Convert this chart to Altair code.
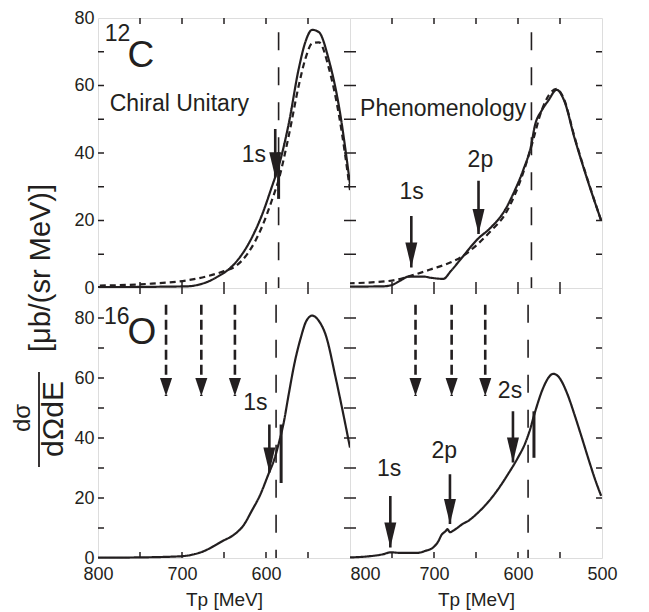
import altair as alt
import pandas as pd

# ---------------- data (Tp in MeV, cross section in µb/(sr MeV)) ----------------
TP_RANGE = [500, 800]

# 12C, chiral unitary (top-left)
tl_tp = [800, 760, 720, 693, 680, 668, 656, 645, 636, 621, 605, 593, 585, 573, 561, 553, 545, 537, 525, 513, 500]
tl_solid = [0.3, 0.3, 0.4, 0.5, 1.0, 2.0, 3.6, 5.4, 7.6, 13.0, 21.5, 30.0, 36.0, 48.6, 65.0, 73.0, 76.5, 75.8, 67.4, 53.6, 30.8]
tl_d_tp = [800, 736, 693, 668, 650, 636, 621, 605, 593, 585, 573, 561, 553, 545, 537, 525, 513, 500]
tl_dash = [0.7, 1.3, 2.3, 3.6, 5.0, 6.5, 10.5, 18.0, 26.0, 32.0, 45.0, 60.0, 68.0, 72.5, 72.8, 65.0, 51.0, 29.0]

# 12C, phenomenology (top-right)
tr_tp = [800, 760, 750, 740, 730, 713, 703, 689, 680, 668, 648, 632, 616, 604, 594, 584, 580, 572, 564, 554, 545, 533, 517, 501]
tr_solid = [0.4, 0.5, 0.9, 2.2, 3.4, 3.4, 3.0, 2.7, 5.0, 8.6, 14.5, 18.0, 22.9, 28.8, 34.8, 42.7, 48.0, 52.5, 55.5, 58.7, 55.5, 44.7, 31.8, 20.0]
tr_d_tp = [800, 750, 728, 703, 680, 668, 648, 632, 616, 604, 594, 584, 572, 554, 545, 533, 517, 501]
tr_dash = [1.4, 2.2, 3.6, 5.6, 7.6, 9.1, 13.0, 17.0, 21.6, 27.5, 34.0, 42.0, 52.5, 59.0, 55.8, 45.0, 32.0, 20.0]

# 16O, chiral unitary (bottom-left)
bl_tp = [800, 750, 700, 685, 673, 662, 652, 637, 627, 617, 607, 597, 590, 585, 579, 573, 566, 559, 552, 545, 537, 529, 517, 508, 500]
bl_solid = [0.1, 0.2, 0.6, 1.3, 2.4, 4.0, 5.6, 8.0, 10.8, 15.7, 21.0, 28.0, 33.0, 38.0, 45.0, 54.5, 65.0, 73.0, 79.0, 80.8, 79.0, 74.4, 60.0, 48.0, 36.8]

# 16O, phenomenology (bottom-right)
br_tp = [800, 780, 760, 752, 740, 720, 710, 701, 695, 691, 686, 684, 681, 675, 665, 659, 650, 636, 624, 612, 600, 592, 586, 580, 570, 564, 558, 552, 541, 533, 525, 515, 508, 501]
br_solid = [0.2, 0.5, 1.3, 1.9, 1.7, 1.7, 2.4, 3.5, 5.5, 7.7, 9.0, 9.6, 8.6, 9.5, 11.5, 12.4, 14.5, 18.5, 22.8, 27.9, 33.5, 37.9, 42.5, 48.4, 56.7, 60.0, 61.4, 60.5, 54.5, 48.0, 41.0, 32.0, 26.0, 20.7]

# vertical dashed threshold lines: (Tp, top value)
tl_vline = (585, 75.8)
tr_vline = (584, 75.8)
bl_vline = (588, 84.4)
br_vline = (588, 84.4)

# short solid bars: (Tp, from, to)
tl_bar = [(585, 40.2, 26.4)]
bl_bar = [(582, 44.5, 25.0)]
br_bar = [(581, 48.9, 33.4)]

# solid arrows: (Tp, start value, tip value)
tl_arrows = [(589, 47.1, 32.8)]
tr_arrows = [(727, 21.3, 6.1), (647, 31.8, 16.0)]
bl_arrows = [(596, 44.5, 28.5)]
br_arrows = [(752, 20.7, 3.5), (681, 27.9, 11.3), (606, 48.9, 31.8)]

# dashed arrows
bl_darrows = [(719, 84.4, 54.0), (677, 84.4, 54.0), (637, 84.4, 54.0)]
br_darrows = [(722, 84.4, 54.0), (679, 84.4, 54.0), (639, 84.4, 54.0)]

# text labels: (Tp of left edge, baseline value, text, font size)
tl_labels = [(792, 73.2, "12", 23), (765, 65.5, "C", 37), (786, 52.4, "Chiral Unitary", 23), (629, 37.3, "1s", 23)]
tr_labels = [(788, 51.0, "Phenomenology", 23), (741, 26.4, "1s", 23), (660, 35.8, "2p", 23)]
bl_labels = [(793, 78.1, "16", 23), (765, 71.4, "O", 37), (627, 49.5, "1s", 23)]
br_labels = [(768, 27.3, "1s", 23), (703, 33.2, "2p", 23), (624, 53.2, "2s", 23)]

X_TICKS = [750, 700, 650, 600, 550]

# ---------------- styling ----------------
W, H = 252, 270
INK = "#231f20"
FONT = "Liberation Sans, Arial, Helvetica, sans-serif"
SOLID_HEAD = "M-0.48,-2L0.48,-2L0,0Z"
DASH_HEAD = "M-0.67,-2L0.67,-2L0,0Z"


def make_panel(ymax, curves, vline, bars, arrows, darrows, labels,
               x_labels=None, show_y=False, extra=None):
    xs = alt.Scale(domain=TP_RANGE, reverse=True, nice=False, zero=False)
    ys = alt.Scale(domain=[0, ymax], nice=False, zero=False)
    if x_labels is not None:
        flush_800 = "true" if 500 in x_labels else "false"
        xaxis = alt.Axis(values=x_labels, title="Tp [MeV]", ticks=False, tickSize=0,
                         domain=False, grid=False, labelFont=FONT, labelFontSize=18,
                         labelColor=INK, labelPadding=7, labelFlush=False,
                         labelAlign={"condition": {"test": "datum.value == 800 && " + flush_800,
                                                   "value": "left"}, "value": "center"},
                         titleFont=FONT, titleFontSize=19, titleFontWeight="normal",
                         titleColor=INK, titlePadding=7)
    else:
        xaxis = None
    if show_y:
        yaxis = alt.Axis(values=[0, 20, 40, 60, 80], title=None, ticks=False, tickSize=0,
                         domain=False, grid=False, labelFont=FONT, labelFontSize=18,
                         labelColor=INK, labelPadding=4)
    else:
        yaxis = None

    def X(f="tp"):
        return alt.X(f"{f}:Q", scale=xs, axis=xaxis)

    def Y(f="v"):
        return alt.Y(f"{f}:Q", scale=ys, axis=yaxis)

    layers = []
    # curves
    for tp, vals, dashed in curves:
        df = pd.DataFrame({"tp": tp, "v": vals})
        mk = alt.Chart(df).mark_line(color=INK, strokeWidth=2.2, interpolate="monotone",
                                     strokeDash=[6, 4] if dashed else [1, 0])
        layers.append(mk.encode(x=X(), y=Y(), order="tp:Q"))
    # dashed threshold line
    vdf = pd.DataFrame({"tp": [vline[0]], "v": [vline[1]], "v0": [0]})
    layers.append(alt.Chart(vdf).mark_rule(color=INK, strokeWidth=1.6, strokeDash=[18, 17])
                  .encode(x=X(), y=Y(), y2="v0:Q"))
    # short bars
    if bars:
        bdf = pd.DataFrame(bars, columns=["tp", "v", "v2"])
        layers.append(alt.Chart(bdf).mark_rule(color=INK, strokeWidth=3)
                      .encode(x=X(), y=Y(), y2="v2:Q"))
    # arrows
    for arr, head, size, dash in ((arrows, SOLID_HEAD, 625, [1, 0]), (darrows, DASH_HEAD, 324, [10, 5])):
        if not arr:
            continue
        adf = pd.DataFrame(arr, columns=["tp", "v", "tip"])
        layers.append(alt.Chart(adf).mark_rule(color=INK, strokeWidth=2.6, strokeDash=dash)
                      .encode(x=X(), y=Y(), y2="tip:Q"))
        layers.append(alt.Chart(adf).mark_point(shape=head, size=size, filled=True, opacity=1,
                                                color=INK, strokeWidth=0)
                      .encode(x=X(), y=Y("tip")))
    # inward ticks
    tdf = pd.DataFrame({"tp": X_TICKS})
    layers.append(alt.Chart(tdf).mark_rule(color=INK, strokeWidth=1.5)
                  .encode(x=X(), y=alt.value(H), y2=alt.value(H - 6)))
    layers.append(alt.Chart(tdf).mark_rule(color=INK, strokeWidth=1.5)
                  .encode(x=X(), y=alt.value(0), y2=alt.value(6)))
    ydf = pd.DataFrame({"v": list(range(10, int(ymax), 10))})
    layers.append(alt.Chart(ydf).mark_rule(color=INK, strokeWidth=1.5)
                  .encode(y=Y(), x=alt.value(0), x2=alt.value(6)))
    layers.append(alt.Chart(ydf).mark_rule(color=INK, strokeWidth=1.5)
                  .encode(y=Y(), x=alt.value(W), x2=alt.value(W - 6)))
    # labels
    ldf = pd.DataFrame(labels, columns=["tp", "v", "label", "fs"])
    layers.append(alt.Chart(ldf).mark_text(align="left", baseline="alphabetic", font=FONT, color=INK)
                  .encode(x=X(), y=Y(), text="label:N", size=alt.Size("fs:Q", scale=None, legend=None)))
    if extra is not None:
        layers.extend(extra)
    return alt.layer(*layers).properties(width=W, height=H)


# y-axis title drawn as text (fraction) in bottom-left panel
frac_df = pd.DataFrame({"t": ["dσ", "dΩdE", "[μb/(sr MeV)]"],
                        "px": [-75.5, -44.5, -57], "py": [130, 131, -20], "fs": [24, 30, 29]})
ytitle = [
    alt.Chart(frac_df).mark_text(angle=270, align="center", baseline="middle", font=FONT, color=INK)
    .encode(text="t:N", x=alt.X("px:Q", scale=None), y=alt.Y("py:Q", scale=None),
            size=alt.Size("fs:Q", scale=None, legend=None)),
    alt.Chart(pd.DataFrame({"a": [1]})).mark_rule(color=INK, strokeWidth=1.8)
    .encode(x=alt.value(-59), y=alt.value(84), y2=alt.value(179)),
]

tl = make_panel(80, [(tl_tp, tl_solid, False), (tl_d_tp, tl_dash, True)], tl_vline, tl_bar,
                tl_arrows, [], tl_labels, show_y=True)
tr = make_panel(80, [(tr_tp, tr_solid, False), (tr_d_tp, tr_dash, True)], tr_vline, [],
                tr_arrows, [], tr_labels)
bl = make_panel(90, [(bl_tp, bl_solid, False)], bl_vline, bl_bar, bl_arrows, bl_darrows, bl_labels,
                x_labels=[800, 700, 600], show_y=True, extra=ytitle)
br = make_panel(90, [(br_tp, br_solid, False)], br_vline, br_bar, br_arrows, br_darrows, br_labels,
                x_labels=[800, 700, 600, 500])

chart = alt.concat(tl, tr, bl, br, columns=2, spacing=0, bounds="flush").properties(
    padding={"left": 2, "top": 0, "right": 5, "bottom": 0}
).configure_view(stroke=INK, strokeWidth=2).configure(background="white")

chart.save("out.html", embed_options={"renderer": "svg", "actions": False})
